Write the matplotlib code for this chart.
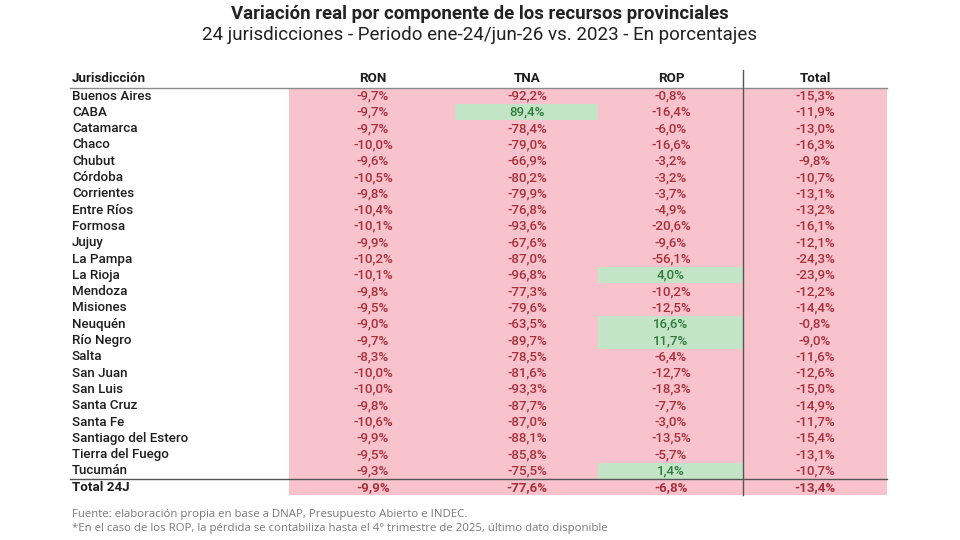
import matplotlib
matplotlib.use("Agg")
import matplotlib.pyplot as plt
from matplotlib.patches import Rectangle

jurisdicciones = ["Buenos Aires", "CABA", "Catamarca", "Chaco", "Chubut", "Córdoba",
                  "Corrientes", "Entre Ríos", "Formosa", "Jujuy", "La Pampa", "La Rioja",
                  "Mendoza", "Misiones", "Neuquén", "Río Negro", "Salta", "San Juan",
                  "San Luis", "Santa Cruz", "Santa Fe", "Santiago del Estero",
                  "Tierra del Fuego", "Tucumán", "Total 24J"]
ron = [-9.7, -9.7, -9.7, -10.0, -9.6, -10.5, -9.8, -10.4, -10.1, -9.9, -10.2, -10.1,
       -9.8, -9.5, -9.0, -9.7, -8.3, -10.0, -10.0, -9.8, -10.6, -9.9, -9.5, -9.3, -9.9]
tna = [-92.2, 89.4, -78.4, -79.0, -66.9, -80.2, -79.9, -76.8, -93.6, -67.6, -87.0, -96.8,
       -77.3, -79.6, -63.5, -89.7, -78.5, -81.6, -93.3, -87.7, -87.0, -88.1, -85.8, -75.5, -77.6]
rop = [-0.8, -16.4, -6.0, -16.6, -3.2, -3.2, -3.7, -4.9, -20.6, -9.6, -56.1, 4.0,
       -10.2, -12.5, 16.6, 11.7, -6.4, -12.7, -18.3, -7.7, -3.0, -13.5, -5.7, 1.4, -6.8]
total = [-15.3, -11.9, -13.0, -16.3, -9.8, -10.7, -13.1, -13.2, -16.1, -12.1, -24.3, -23.9,
         -12.2, -14.4, -0.8, -9.0, -11.6, -12.6, -15.0, -14.9, -11.7, -15.4, -13.1, -10.7, -13.4]
columns = ["RON", "TNA", "ROP", "Total"]

title = "Variación real por componente de los recursos provinciales"
subtitle = "24 jurisdicciones - Periodo ene-24/jun-26 vs. 2023 - En porcentajes"
footer1 = "Fuente: elaboración propia en base a DNAP, Presupuesto Abierto e INDEC."
footer2 = "*En el caso de los ROP, la pérdida se contabiliza hasta el 4° trimestre de 2025, último dato disponible"

PINK = "#f8c3cc"
GREEN_BG = "#c4e4c8"
RED_TXT = "#a8303b"
GREEN_TXT = "#2f7d3a"
FONT = ["Roboto", "DejaVu Sans"]
FS = 9.6

fig = plt.figure(figsize=(9.6, 5.4), dpi=100)
ax = fig.add_axes([0, 0, 1, 1])
ax.set_xlim(0, 960)
ax.set_ylim(540, 0)
ax.axis("off")

y0, dy = 96.0, 16.3
col_x = [373, 527, 671, 815]
col_edges = [(289, 455), (455, 598), (598, 743), (743, 887)]
n = len(jurisdicciones)

# pink background
ax.add_patch(Rectangle((289, y0 - dy / 2), 887 - 289, n * dy, facecolor=PINK, edgecolor="none", zorder=0))

data = [ron, tna, rop, total]
for i, name in enumerate(jurisdicciones):
    y = y0 + i * dy
    bold = (i == n - 1)
    ax.text(72, y, name, ha="left", va="center", fontsize=FS, color="#1e1e1e",
            fontweight="bold" if bold else "medium", family=FONT)
    for j, series in enumerate(data):
        v = series[i]
        txt = f"{v:.1f}%".replace(".", ",")
        if v > 0:
            x0, x1 = col_edges[j]
            ax.add_patch(Rectangle((x0, y - dy / 2), x1 - x0, dy, facecolor=GREEN_BG,
                                   edgecolor="none", zorder=1))
            c = GREEN_TXT
        else:
            c = RED_TXT
        ax.text(col_x[j], y, txt, ha="center", va="center", fontsize=FS, color=c,
                fontweight="bold" if bold else "medium", family=FONT, zorder=3)

# header
hy = 78.5
ax.text(72, hy, "Jurisdicción", ha="left", va="center", fontsize=FS, fontweight="bold",
        color="#1e1e1e", family=FONT)
for j, c in enumerate(columns):
    ax.text(col_x[j], hy, c, ha="center", va="center", fontsize=FS, fontweight="bold",
            color="#1e1e1e", family=FONT)

# lines
ax.plot([70, 887], [87.5, 87.5], color="#8a8a8a", lw=1.0, zorder=4)
ax.plot([70, 887], [y0 + (n - 1.5) * dy, y0 + (n - 1.5) * dy], color="#555555", lw=1.0, zorder=4)
ax.plot([743, 743], [70, y0 + (n - 0.5) * dy], color="#555555", lw=1.0, zorder=4)

# titles
ax.text(480, 14, title, ha="center", va="center", fontsize=13.4, fontweight="bold",
        color="#222222", family=FONT)
ax.text(480, 35, subtitle, ha="center", va="center", fontsize=13.5, color="#222222", family=FONT)

# footer
ax.text(72, 514, footer1, ha="left", va="center", fontsize=8.2, color="#7a7a7a",
        family=["Open Sans", "DejaVu Sans"])
ax.text(72, 529, footer2, ha="left", va="center", fontsize=8.2, color="#7a7a7a",
        family=["Open Sans", "DejaVu Sans"])

fig.savefig("out.png", dpi=100, facecolor="white")
